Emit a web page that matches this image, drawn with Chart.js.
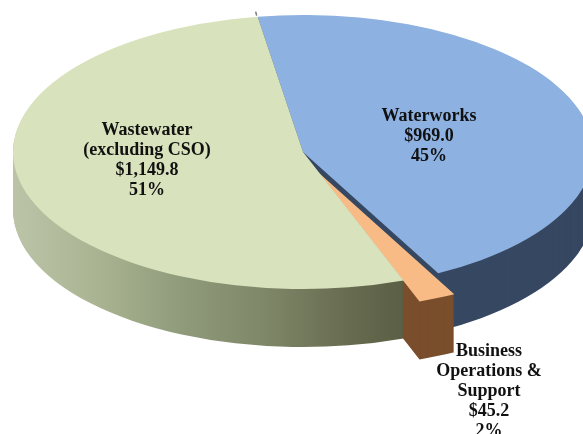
<!DOCTYPE html>
<html lang="en">
<head>
    <meta charset="UTF-8">
    <title>Budget by program</title>
    <script src="https://cdn.jsdelivr.net/npm/chart.js@4"></script>
    <style>
        html, body { margin: 0; padding: 0; background: #fff; overflow: hidden; }
        canvas { display: block; }
    </style>
</head>
<body>
    <canvas id="grafica" width="583" height="434"></canvas>
    <script>
// Chart data. Percents are the printed ones.
const categories = ['Waterworks', 'Business Operations & Support', 'Wastewater (excluding CSO)'];
const categoryLines = [['Waterworks'], ['Business', 'Operations &', 'Support'], ['Wastewater', '(excluding CSO)']];
const amounts = [969.0, 45.2, 1149.8];
const amountLabels = ['$969.0', '$45.2', '$1,149.8'];
const percentLabels = ['45%', '2%', '51%'];

// Colours
const topColors = ['#8db1e1', '#f8bb85', '#d8e3bd'];
const wallColors = ['#374862', '#7a4e2c', null];
const greenWallStops = [[0, '#bcc4a8'], [0.15, '#a9b391'], [0.29, '#8f9b7b'], [0.43, '#7f8869'], [0.55, '#6c7054'], [0.67, '#5a5f45']];

// Ellipse of the top face, in page pixels, and how thick the pie looks
const CX = 303, CY = 152, RX = 290, RY = 137, DEPTH = 58;
const sliceShift = [[0, 0], [16, 21], [0, 0]];
const labelBoxes = [[429, 116], [489, 351], [147, 130]];
const LINE_HEIGHT = 20.2;

// Chart.js only draws round pies, so squash the arcs and stack them to get the 3D look
const pie3d = {
  id: 'pie3d',
  beforeDatasetsDraw(chart) {
    const ctx = chart.ctx;
    const arcs = chart.getDatasetMeta(0).data;
    const first = arcs[0];
    const R = first.outerRadius;

    const paint = (arc, i, dy, color) => {
      const saved = arc.options;
      arc.options = Object.assign({}, saved, { backgroundColor: color, borderWidth: 0 });
      ctx.save();
      ctx.translate(CX + sliceShift[i][0], CY + sliceShift[i][1] + dy);
      ctx.scale(RX / R, RY / R);
      ctx.translate(-arc.x, -arc.y);
      arc.draw(ctx);
      ctx.restore();
      arc.options = saved;
    };

    const greenWall = ctx.createLinearGradient(first.x - R, 0, first.x + R, 0);
    greenWallStops.forEach(s => greenWall.addColorStop(s[0], s[1]));

    // side walls first
    for (let d = DEPTH; d >= 1; d--) {
      arcs.forEach((arc, i) => paint(arc, i, d, wallColors[i] || greenWall));
    }
    // then the top faces
    arcs.forEach((arc, i) => paint(arc, i, 0, topColors[i]));

    // small grey tick on the rim where the first slice starts
    const a = first.startAngle;
    const rimX = CX + Math.cos(a) * RX, rimY = CY + Math.sin(a) * RY;
    ctx.save();
    ctx.strokeStyle = '#77797c';
    ctx.lineWidth = 1.5;
    ctx.beginPath();
    ctx.moveTo(rimX - 1, rimY - 1);
    ctx.lineTo(rimX - 2, rimY - 5);
    ctx.stroke();
    ctx.restore();
    return false;
  },
  afterDraw(chart) {
    const ctx = chart.ctx;
    ctx.save();
    ctx.font = 'bold 18px "Liberation Serif"';
    ctx.fillStyle = '#111';
    ctx.textAlign = 'center';
    ctx.textBaseline = 'middle';
    categories.forEach((name, i) => {
      const lines = categoryLines[i].concat(amountLabels[i], percentLabels[i]);
      lines.forEach((line, j) => {
        ctx.fillText(line, labelBoxes[i][0], labelBoxes[i][1] + j * LINE_HEIGHT);
      });
    });
    ctx.restore();
  }
};

new Chart(document.getElementById('grafica').getContext('2d'), {
  type: 'pie',
  data: {
    labels: categories,
    datasets: [{
      data: amounts,
      backgroundColor: topColors,
      borderWidth: 0
    }]
  },
  options: {
    responsive: false,
    animation: false,
    rotation: -9,
    events: [],
    plugins: {
      legend: { display: false },
      tooltip: { enabled: false }
    }
  },
  plugins: [pie3d]
});
    </script>
</body>
</html>
